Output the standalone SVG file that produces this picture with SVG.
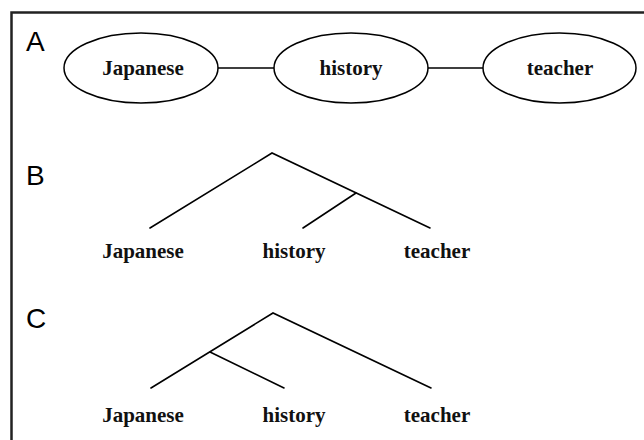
<svg xmlns="http://www.w3.org/2000/svg" width="644" height="440" viewBox="0 0 644 440">
<style>
.frame{fill:none;stroke:#222;stroke-width:2.5}
.node ellipse{fill:#fff;stroke:#000;stroke-width:1.5}
.edge{stroke:#000;stroke-width:1.6;fill:none;stroke-linecap:round}
.w{font-family:"Liberation Serif","Times New Roman",serif;font-weight:bold;font-size:21px;fill:#111;text-anchor:middle}
.lab{font-family:"Liberation Sans",Arial,sans-serif;font-size:28px;fill:#000}
</style>
<rect width="644" height="440" fill="#fff"/>
<path class="frame" d="M11.5,440 V12.5 H644"/>
<text class="lab" x="26" y="51">A</text>
<text class="lab" x="26" y="185">B</text>
<text class="lab" x="26" y="328">C</text>
<g id="connectors">
<line class="edge" x1="218" y1="68" x2="274" y2="68"/>
<line class="edge" x1="428" y1="68" x2="483" y2="68"/>
<polyline class="edge" points="150,228 272,153 430,228"/>
<line class="edge" x1="356" y1="193" x2="303" y2="228"/>
<polyline class="edge" points="151,388 273,313 431,388"/>
<line class="edge" x1="210" y1="352" x2="284" y2="388"/>
</g>
<g id="A-japanese" class="node"><ellipse cx="141" cy="68" rx="77" ry="35"/><text class="w" x="143" y="75">Japanese</text></g>
<g id="A-history" class="node"><ellipse cx="351" cy="68" rx="77" ry="35"/><text class="w" x="351" y="75">history</text></g>
<g id="A-teacher" class="node"><ellipse cx="559.5" cy="68" rx="76.5" ry="35"/><text class="w" x="560" y="75">teacher</text></g>
<g id="B-japanese"><text class="w" x="143" y="258">Japanese</text></g>
<g id="B-history"><text class="w" x="294" y="258">history</text></g>
<g id="B-teacher"><text class="w" x="437" y="258">teacher</text></g>
<g id="C-japanese"><text class="w" x="143" y="422">Japanese</text></g>
<g id="C-history"><text class="w" x="294" y="422">history</text></g>
<g id="C-teacher"><text class="w" x="437" y="422">teacher</text></g>
</svg>
